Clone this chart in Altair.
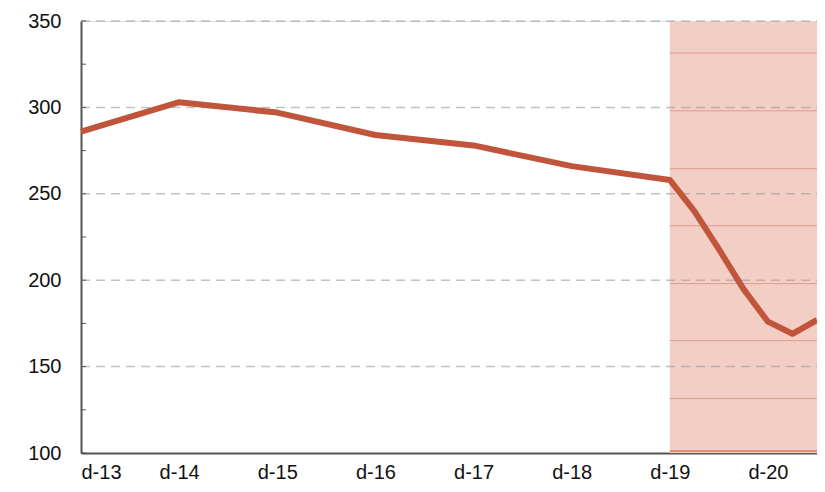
import altair as alt
import pandas as pd
import json

# Quarter index from Dec-2013 (0) to Jun-2021 (30)
quarters = [0, 4, 8, 12, 16, 20, 24, 25, 26, 27, 28, 29, 30]
values = [286, 303, 297, 284, 278, 266, 258, 240, 218, 195, 176, 169, 177]

tick_positions = [0, 4, 8, 12, 16, 20, 24, 28]
tick_labels = ["d-13", "d-14", "d-15", "d-16", "d-17", "d-18", "d-19", "d-20"]

y_grid = [150, 200, 250, 300, 350]
y_minor = [100, 125, 150, 175, 200, 225, 250, 275, 300, 325, 350]
shade_lines = [131.5, 165, 198, 231.5, 264.5, 298, 331.5]
shade_start, shade_end = 24, 30.1

XMAX = 30.0
W, H = 736, 432
xscale = alt.Scale(domain=[0, XMAX], nice=False, zero=False)
yscale = alt.Scale(domain=[100, 350], nice=False, zero=False)

line_df = pd.DataFrame({"q": quarters, "v": values})
shade_df = pd.DataFrame({"x1": [shade_start], "x2": [shade_end], "y1": [100], "y2": [350]})
grid_df = pd.DataFrame({"y": y_grid})
minor_df = pd.DataFrame({"y": y_minor})
sl_df = pd.DataFrame({"y": shade_lines, "x1": shade_start, "x2": shade_end})
bottom_df = pd.DataFrame({"y": [100], "x1": [shade_start], "x2": [shade_end]})

label_expr = json.dumps(tick_labels) + "[round(datum.value/4)]"

xaxis = alt.Axis(values=tick_positions, labelExpr=label_expr, title=None, grid=False,
                 ticks=False, labelFontSize=20, labelFont="Liberation Sans",
                 labelColor="#111", labelPadding=9, domainColor="#555", domainWidth=2)
yaxis = alt.Axis(values=[100, 150, 200, 250, 300, 350], title=None, grid=False,
                 ticks=False, labelFontSize=20, labelFont="Liberation Sans",
                 labelColor="#111", labelPadding=20, domainColor="#555", domainWidth=2)

shade = alt.Chart(shade_df).mark_rect(color="#f3cec5").encode(
    x=alt.X("x1:Q", scale=xscale, axis=xaxis), x2="x2:Q",
    y=alt.Y("y1:Q", scale=yscale, axis=yaxis), y2="y2:Q")

shade_rules = alt.Chart(sl_df).mark_rule(color="#e09a8b", strokeWidth=1).encode(
    x=alt.X("x1:Q", scale=xscale), x2="x2:Q", y=alt.Y("y:Q", scale=yscale))

grid = alt.Chart(grid_df).mark_rule(color="#9a9a9a", strokeWidth=1.5, strokeDash=[9, 6],
                                    opacity=0.6).encode(
    y=alt.Y("y:Q", scale=yscale), x=alt.value(0), x2=alt.value(W))

bottom = alt.Chart(bottom_df).mark_rule(color="#d9725f", strokeWidth=1.5, yOffset=-2).encode(
    x=alt.X("x1:Q", scale=xscale), x2="x2:Q", y=alt.Y("y:Q", scale=yscale))

minor = alt.Chart(minor_df).mark_rule(color="#555", strokeWidth=1).encode(
    y=alt.Y("y:Q", scale=yscale), x=alt.value(0), x2=alt.value(5))

line = alt.Chart(line_df).mark_line(color="#c0553c", strokeWidth=6, strokeJoin="round").encode(
    x=alt.X("q:Q", scale=xscale), y=alt.Y("v:Q", scale=yscale))

chart = alt.layer(shade, shade_rules, grid, bottom, minor, line).properties(
    width=W, height=H,
    autosize=alt.AutoSizeParams(type="none"),
    padding={"left": 73, "top": 13, "right": 0, "bottom": 31},
).configure_view(stroke=None).configure(background="white")

chart.save("out.html", embed_options={"renderer": "svg", "actions": False})
